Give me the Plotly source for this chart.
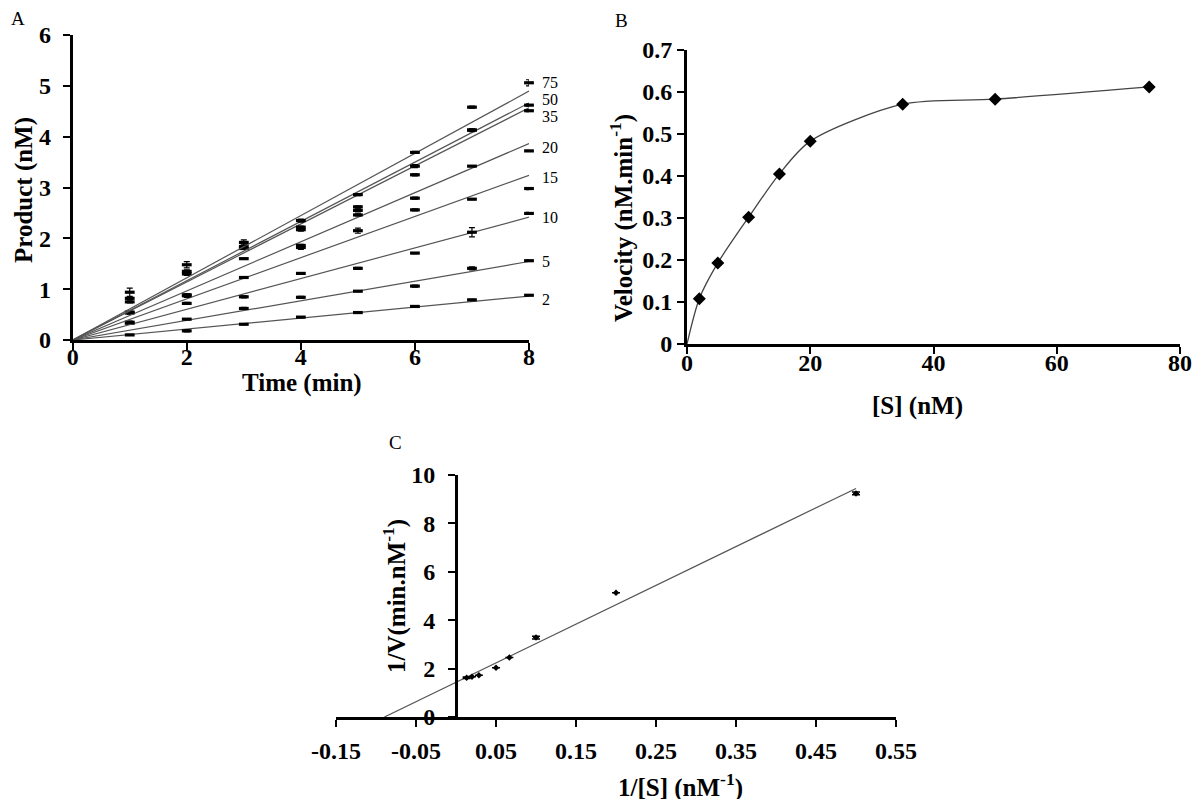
import numpy as np
import plotly.graph_objects as go

# ---------------- data ----------------
substrate = [2, 5, 10, 15, 20, 35, 50, 75]          # [S] nM
series_labels = ["2", "5", "10", "15", "20", "35", "50", "75"]
time_min = [1, 2, 3, 4, 5, 6, 7, 8]

prod_2 = [0.10, 0.18, 0.31, 0.45, 0.54, 0.66, 0.79, 0.88]
prod_5 = [0.33, 0.41, 0.62, 0.84, 0.96, 1.06, 1.41, 1.56]
prod_10 = [0.35, 0.72, 0.85, 1.31, 1.41, 1.71, 2.12, 2.49]
prod_15 = [0.53, 0.89, 1.23, 1.82, 2.15, 2.56, 2.77, 2.98]
prod_20 = [0.55, 0.87, 1.60, 1.86, 2.46, 2.79, 3.42, 3.72]
prod_35 = [0.75, 1.30, 1.80, 2.17, 2.55, 3.25, 4.13, 4.51]
prod_50 = [0.82, 1.35, 1.84, 2.22, 2.62, 3.42, 4.13, 4.62]
prod_75 = [0.94, 1.48, 1.92, 2.35, 2.86, 3.69, 4.58, 5.06]

err_2 = [0.01, 0.02, 0.01, 0.01, 0.01, 0.01, 0.01, 0.01]
err_5 = [0.02, 0.01, 0.02, 0.02, 0.01, 0.02, 0.03, 0.01]
err_10 = [0.02, 0.02, 0.02, 0.01, 0.02, 0.01, 0.09, 0.02]
err_15 = [0.02, 0.02, 0.01, 0.04, 0.05, 0.02, 0.01, 0.02]
err_20 = [0.02, 0.03, 0.01, 0.02, 0.02, 0.02, 0.01, 0.01]
err_35 = [0.02, 0.03, 0.02, 0.03, 0.03, 0.02, 0.02, 0.02]
err_50 = [0.02, 0.03, 0.02, 0.02, 0.02, 0.03, 0.03, 0.02]
err_75 = [0.08, 0.06, 0.05, 0.03, 0.02, 0.02, 0.02, 0.06]

velocity = [0.108, 0.193, 0.302, 0.405, 0.483, 0.571, 0.583, 0.612]   # nM/min

inv_S = [0.5, 0.2, 0.1, 0.0667, 0.05, 0.0286, 0.02, 0.0133]
inv_V = [9.24, 5.13, 3.28, 2.46, 2.03, 1.73, 1.66, 1.62]
err_invV = [0.06, 0.0, 0.06, 0.0, 0.0, 0.0, 0.0, 0.03]

label_y = [0.79, 1.54, 2.40, 3.19, 3.78, 4.40, 4.74, 5.06]   # positions of curve labels (data units)

x_ticks_C = [-0.15, -0.05, 0.05, 0.15, 0.25, 0.35, 0.45, 0.55]
x_ticktext_C = ["-0.15", "-0.05", "0.05", "0.15", "0.25", "0.35", "0.45", "0.55"]

products = [prod_2, prod_5, prod_10, prod_15, prod_20, prod_35, prod_50, prod_75]
errors = [err_2, err_5, err_10, err_15, err_20, err_35, err_50, err_75]

# ---------------- geometry (screen pixels of the target picture) ----------------
OFF = 8                      # page body margin
W, H = 1184, 791
A_X0, A_X1, A_Y0, A_Y1 = 72.7, 529.0, 340.0, 35.0
B_X0, B_X1, B_Y0, B_Y1 = 687.0, 1180.0, 344.0, 50.0
C_X0, C_X1, C_Y0, C_Y1 = 336.0, 896.0, 717.0, 475.0
C_YAXIS_X = 456.0

def px(x):
    return (x - OFF) / W
def py(y):
    return 1 - (y - OFF) / H

FONT = "Liberation Serif"
fig = go.Figure()

# Panel A: trend lines through origin (slope = velocity) and data points
for lab, v, prod, err in zip(series_labels, velocity, products, errors):
    fig.add_trace(go.Scatter(
        x=[0, time_min[-1]], y=[0, v * time_min[-1]], mode="lines",
        line=dict(color="#555555", width=1.2), xaxis="x", yaxis="y",
        showlegend=False, hoverinfo="skip", cliponaxis=False))
    fig.add_trace(go.Scatter(
        x=time_min, y=prod, mode="markers",
        marker=dict(symbol="line-ew", size=7, line=dict(width=3.2, color="black")),
        error_y=dict(type="data", array=err, color="black", thickness=1.2, width=3),
        xaxis="x", yaxis="y", showlegend=False, name=lab, cliponaxis=False))

# Panel B: Michaelis-Menten
fig.add_trace(go.Scatter(
    x=[0] + substrate, y=[0] + velocity, mode="lines",
    line=dict(color="#444444", width=1.3, shape="spline", smoothing=0.8),
    xaxis="x2", yaxis="y2", showlegend=False, hoverinfo="skip", cliponaxis=False))
fig.add_trace(go.Scatter(
    x=substrate, y=velocity, mode="markers",
    marker=dict(symbol="diamond", size=10, color="black"),
    xaxis="x2", yaxis="y2", showlegend=False, cliponaxis=False))

# Panel C: Lineweaver-Burk
slope, intercept = np.polyfit(inv_S, inv_V, 1)
x_start = -intercept / slope
fig.add_trace(go.Scatter(
    x=[x_start, max(inv_S)], y=[0, slope * max(inv_S) + intercept], mode="lines",
    line=dict(color="#555555", width=1.2),
    xaxis="x3", yaxis="y3", showlegend=False, hoverinfo="skip", cliponaxis=False))
fig.add_trace(go.Scatter(
    x=inv_S, y=inv_V, mode="markers",
    marker=dict(symbol="diamond", size=5, color="black"),
    error_y=dict(type="data", array=err_invV, color="black", thickness=1.5, width=4),
    xaxis="x3", yaxis="y3", showlegend=False, cliponaxis=False))

tickfont = dict(family=FONT, size=24, color="black", weight="bold")
common = dict(showline=True, linecolor="black", linewidth=3, ticks="outside",
              ticklen=7, tickwidth=2, tickcolor="black", showgrid=False,
              zeroline=False, tickfont=tickfont, fixedrange=True, automargin=False,
              ticklabeloverflow="allow")

fig.update_layout(
    template="none",
    width=W, height=H, margin=dict(l=0, r=0, t=0, b=0, pad=0, autoexpand=False),
    paper_bgcolor="white", plot_bgcolor="white", showlegend=False,
    xaxis=dict(domain=[px(A_X0), px(A_X1)], range=[0, 8], dtick=2, anchor="y",
               ticklabelstandoff=-14, **common),
    yaxis=dict(domain=[py(A_Y0), py(A_Y1)], range=[0, 6], dtick=1, anchor="x",
               ticklabelstandoff=7, **common),
    xaxis2=dict(domain=[px(B_X0), px(B_X1)], range=[0, 80], dtick=20, anchor="y2",
                ticklabelstandoff=-12, **common),
    yaxis2=dict(domain=[py(B_Y0), py(B_Y1)], range=[0, 0.7], dtick=0.1, anchor="x2",
                ticklabelstandoff=0, **common),
    xaxis3=dict(domain=[px(C_X0), px(C_X1)], range=[-0.15, 0.55], tickvals=x_ticks_C,
                ticktext=x_ticktext_C, anchor="y3", ticklabelstandoff=3, **common),
    yaxis3=dict(domain=[py(C_Y0), py(C_Y1)], range=[0, 10], dtick=2, anchor="free",
                position=px(C_YAXIS_X), ticklabelstandoff=8, **common),
)

ann = []
# curve labels in panel A (placed just right of the x=8 end of each line)
a_sx = (A_X1 - A_X0) / 8.0
a_sy = (A_Y0 - A_Y1) / 6.0
for lab, yv in zip(series_labels, label_y):
    ann.append(dict(x=px(A_X0 + 8.2 * a_sx), y=py(A_Y0 - yv * a_sy), xref="paper", yref="paper",
                    text=lab, showarrow=False, xanchor="left", yanchor="middle",
                    font=dict(family=FONT, size=16, color="black")))
# panel letters
for t, x, y in [("A", 18, 18), ("B", 622, 20), ("C", 395, 442)]:
    ann.append(dict(x=px(x), y=py(y), xref="paper", yref="paper", text=t, showarrow=False,
                    xanchor="center", yanchor="middle",
                    font=dict(family=FONT, size=19, color="black")))
bold = dict(family=FONT, size=25, color="black", weight="bold")
titles = [
    ("Product (nM)", 24, 190, -90),
    ("Time (min)", 302, 383, 0),
    ("Velocity (nM.min<sup>-1</sup>)", 622, 218, -90),
    ("[S] (nM)", 918, 406, 0),
    ("1/V(min.nM<sup>-1</sup>)", 394, 596, -90),
    ("1/[S] (nM<sup>-1</sup>)", 680, 785, 0),
]
for t, x, y, ang in titles:
    ann.append(dict(x=px(x), y=py(y), xref="paper", yref="paper", text=t, showarrow=False,
                    xanchor="center", yanchor="middle", textangle=ang, font=bold))
fig.update_layout(annotations=ann)

fig.write_html("out.html")
